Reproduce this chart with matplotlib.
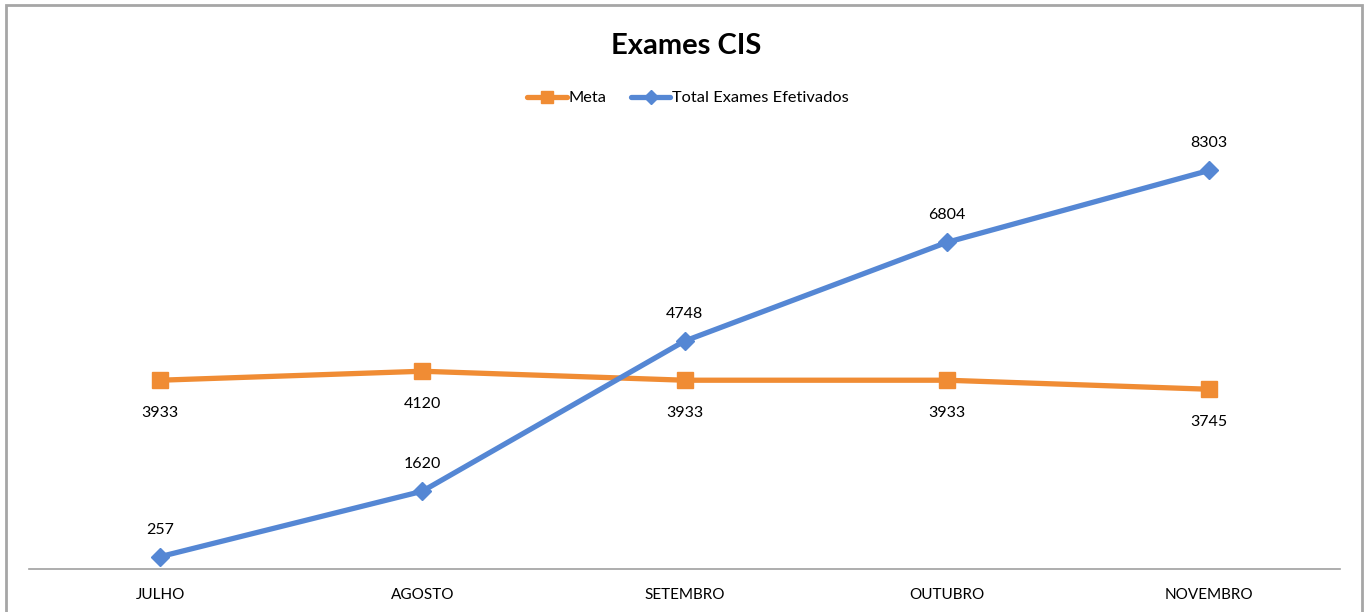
import matplotlib
matplotlib.use("Agg")
import matplotlib.pyplot as plt
from matplotlib.patches import Rectangle

categories = ["JULHO", "AGOSTO", "SETEMBRO", "OUTUBRO", "NOVEMBRO"]
meta = [3933, 4120, 3933, 3933, 3745]
total = [257, 1620, 4748, 6804, 8303]

plt.rcParams['font.family'] = ['Lato', 'DejaVu Sans']

W, H = 1369, 612
fig = plt.figure(figsize=(W / 100, H / 100), dpi=100)
fig.patch.set_facecolor("white")

# outer chart frame
fig.add_artist(Rectangle((6 / W, -0.05), (1362 - 6) / W, 1 - 5 / H + 0.05,
                         transform=fig.transFigure, fill=False,
                         edgecolor="#A6A6A6", linewidth=2))

ax = fig.add_axes([29 / W, 1 - 569 / H, (1340 - 29) / W, (569 - 137) / H])
x = list(range(len(categories)))

orange = "#F08C34"
blue = "#5587D4"

ax.plot(x, meta, color=orange, linewidth=3.8, marker="s", markersize=11,
        markerfacecolor=orange, markeredgecolor=orange, label="Meta",
        solid_capstyle="round", zorder=3)
ax.plot(x, total, color=blue, linewidth=3.8, marker="D", markersize=9,
        markerfacecolor=blue, markeredgecolor=blue, label="Total Exames Efetivados",
        solid_capstyle="round", zorder=4)

for xi, v in zip(x, meta):
    ax.annotate(str(v), (xi, v), xytext=(0, -33), textcoords="offset pixels",
                ha="center", va="center", fontsize=11.5, color="black")
for xi, v in zip(x, total):
    ax.annotate(str(v), (xi, v), xytext=(0, 27), textcoords="offset pixels",
                ha="center", va="center", fontsize=11.5, color="black")

ax.set_xlim(-0.5, len(categories) - 0.5)
ax.set_ylim(0, 9000)
ax.set_yticks([])
ax.set_xticks(x)
ax.set_xticklabels(categories, fontsize=11)
ax.tick_params(axis="x", length=0, pad=14)
for s in ["top", "right", "left"]:
    ax.spines[s].set_visible(False)
ax.spines["bottom"].set_color("#A0A0A0")
ax.spines["bottom"].set_linewidth(1.2)
ax.patch.set_alpha(0)

fig.text(686 / W, 1 - 46 / H, "Exames CIS", ha="center", va="center",
         fontsize=21, fontweight="bold")

fig.legend(loc="center", bbox_to_anchor=(688 / W, 1 - 98 / H), ncol=2,
           frameon=False, fontsize=11.8, handlelength=2.4, handletextpad=0.1,
           columnspacing=1.5, markerscale=0.8)

fig.savefig("out.png", dpi=100, facecolor="white")
